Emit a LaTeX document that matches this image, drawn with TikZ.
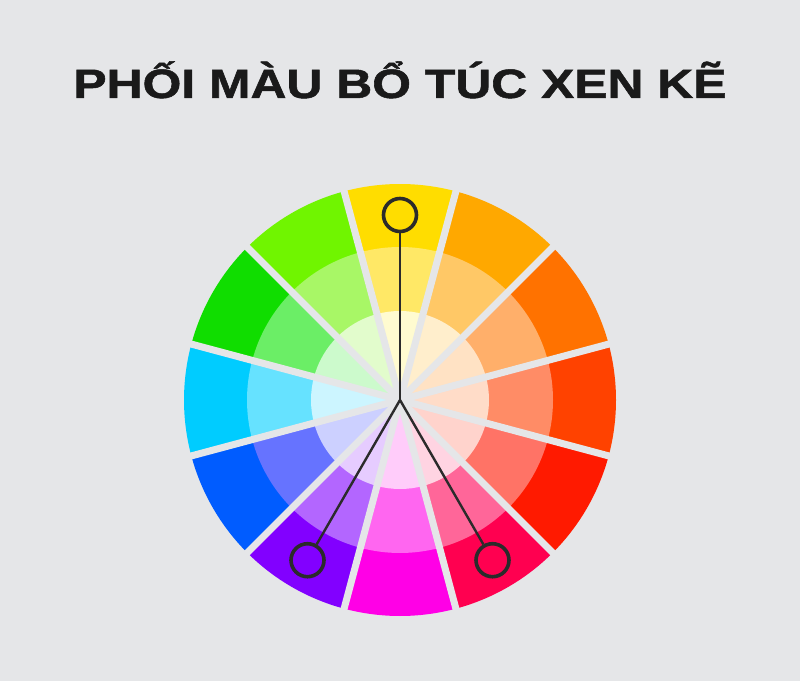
\documentclass[tikz,border=0pt]{standalone}
\usepackage{fontspec}
\setmainfont{Liberation Sans}
\definecolor{bg}{HTML}{E5E6E8}
\definecolor{ink}{HTML}{2B2B2B}
\definecolor{titleink}{HTML}{1A1A1A}
\tikzset{
  pick/.style={circle, draw=ink, line width=3.6pt, minimum size=33pt, inner sep=0pt},
  link/.style={draw=ink, line width=2.4pt},
  gap/.style={draw=bg, line width=7pt},
}
\begin{document}
\begin{tikzpicture}[x=1pt,y=1pt]
\fill[bg] (0,0) rectangle (800,681);
\useasboundingbox (0,0) rectangle (800,681);
\node[font=\bfseries\fontsize{41}{41}\selectfont, text=titleink, anchor=base, inner sep=0pt] (title) at (400,583) {\scalebox{1.215}[1]{\addfontfeature{FakeBold=1.2}PHỐI MÀU BỔ TÚC XEN KẼ}};
\begin{scope}[shift={(400,281)}]
\foreach \a/\o/\m/\i in {
  90/FFDD00/FFE866/FFFBD0,
  60/FFA800/FFC866/FFEECC,
  30/FF7200/FFAF6A/FFE2C4,
  0/FF4200/FF8C66/FFDCC8,
  -30/FF1A00/FF7366/FFD3CC,
  -60/FF0050/FF6699/FFD4E2,
  -90/FF00E6/FF66F0/FFCCFA,
  -120/8200FF/B366FF/E6CCFF,
  -150/005CFF/6673FF/CCD0FF,
  180/00CCFF/66E2FF/CCF5FF,
  150/10DD00/6BEE66/CCFACC,
  120/70F500/A8F766/E2FCCC}{
  \definecolor{wheelO}{HTML}{\o}\definecolor{wheelM}{HTML}{\m}\definecolor{wheelI}{HTML}{\i}
  \fill[fill=wheelO] (0,0) -- (\a-15:216) arc[start angle=\a-15, end angle=\a+15, radius=216] -- cycle;
  \fill[fill=wheelM] (0,0) -- (\a-15:153) arc[start angle=\a-15, end angle=\a+15, radius=153] -- cycle;
  \fill[fill=wheelI] (0,0) -- (\a-15:89) arc[start angle=\a-15, end angle=\a+15, radius=89] -- cycle;
}
\foreach \a in {15,45,...,345}{
  \draw[gap] (0,0) -- (\a:225);
}
\coordinate (hub) at (0,0);
\node[pick] (py) at (90:185) {};
\node[pick] (pv) at (-120:185) {};
\node[pick] (pr) at (-60:185) {};
\draw[link] (hub) -- (py);
\draw[link] (hub) -- (pv);
\draw[link] (hub) -- (pr);
\end{scope}
\end{tikzpicture}
\end{document}
